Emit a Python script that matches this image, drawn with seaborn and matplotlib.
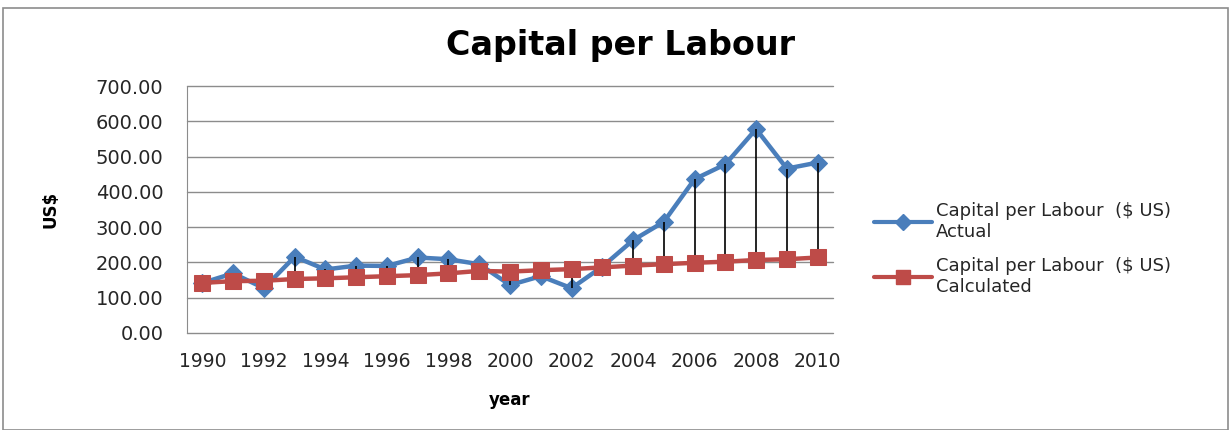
import matplotlib
matplotlib.use('Agg')
import matplotlib.pyplot as plt
from matplotlib.patches import Rectangle
from matplotlib.lines import Line2D
import numpy as np
import pandas as pd
import seaborn as sns

years = list(range(1990, 2011))
actual = [142, 169, 127, 216, 180, 191, 190, 214, 209, 195,
          136, 161, 127, 188, 263, 315, 436, 478, 578, 466, 483]
calculated = [142, 147, 148, 153, 155, 158, 161, 164, 169, 176,
              174, 178, 181, 186, 191, 195, 199, 202, 207, 209, 214]
y_ticks = [0, 100, 200, 300, 400, 500, 600, 700]

BLUE = '#4A7EBB'
RED = '#BE4B48'
TXT = '#262626'
GRID = '#8c8c8c'

sns.set_style("white")
plt.rcParams['font.family'] = ['DejaVu Sans']

fig = plt.figure(figsize=(12.31, 4.30), dpi=100)
ax = fig.add_axes([187 / 1231, 1 - 333 / 430, (833 - 187) / 1231, (333 - 86) / 430])

df = pd.DataFrame({"pos": np.arange(len(years)), "actual": actual, "calculated": calculated})

# high-low lines between the two series
ax.vlines(df["pos"], df[["actual", "calculated"]].min(axis=1),
          df[["actual", "calculated"]].max(axis=1), color='black', lw=1.2, zorder=3)

sns.lineplot(data=df, x="pos", y="actual", ax=ax, color=BLUE, lw=3.2,
             marker='D', markersize=9, markeredgecolor=BLUE, zorder=2)
sns.lineplot(data=df, x="pos", y="calculated", ax=ax, color=RED, lw=3.2,
             marker='s', markersize=12, markeredgecolor=RED, zorder=4)

ax.set_xlim(-0.5, len(years) - 0.5)
ax.set_ylim(0, 700)
ax.set_yticks(y_ticks)
ax.set_yticklabels([f"{v:.2f}" for v in y_ticks], fontsize=14, color=TXT)
ax.set_xticks(np.arange(0, len(years), 2))
ax.set_xticklabels([str(y) for y in years[::2]], fontsize=13.5, color=TXT)
ax.grid(axis='y', color=GRID, lw=1)
for gl in ax.get_ygridlines():
    gl.set_clip_on(False)
ax.tick_params(axis='y', length=7, color=GRID, pad=10)
ax.tick_params(axis='x', length=0, pad=14)
for s in ['top', 'right', 'bottom']:
    ax.spines[s].set_visible(False)
ax.spines['left'].set_color(GRID)

ax.set_xlabel("year", fontsize=12, fontweight='bold', labelpad=14, color='black')
ax.set_ylabel("US$", fontsize=12, fontweight='bold', labelpad=26, color='black')

fig.text(620 / 1231, 1 - 45 / 430, "Capital per Labour", fontsize=24,
         fontweight='bold', ha='center', va='center', color='black')

handles = [
    Line2D([], [], color=BLUE, lw=3, marker='D', markersize=8),
    Line2D([], [], color=RED, lw=3, marker='s', markersize=10),
]
labels = ["Capital per Labour  ($ US)\nActual", "Capital per Labour  ($ US)\nCalculated"]
leg = fig.legend(handles, labels, loc='center left', bbox_to_anchor=(858 / 1231, 1 - 249 / 430),
                 frameon=False, fontsize=13, handlelength=3.2, handletextpad=0.2,
                 labelspacing=0.9)
for t in leg.get_texts():
    t.set_color(TXT)

fig.patches.append(Rectangle((3 / 1231, 0), 1225 / 1231, 1 - 8 / 430,
                             transform=fig.transFigure, fill=False,
                             edgecolor=GRID, lw=1.2))

fig.savefig("out.png", dpi=100)
